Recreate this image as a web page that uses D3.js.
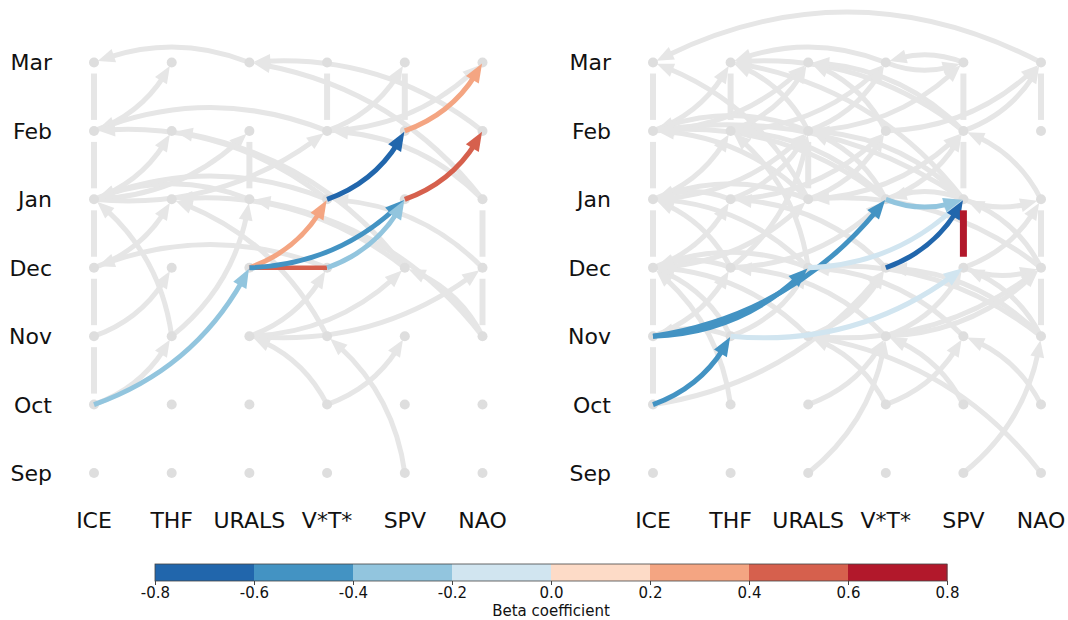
<!DOCTYPE html>
<html>
<head>
<meta charset="utf-8">
<script src="https://cdn.jsdelivr.net/npm/d3@7"></script>
<style>
  body { margin: 0; background: #fff; }
  text { font-family: "DejaVu Sans", sans-serif; fill: #111; }
</style>
</head>
<body>
<svg id="chart" width="1068" height="620"></svg>
<script>
// ---- data ----
const variables = ["ICE", "THF", "URALS", "V*T*", "SPV", "NAO"];
const months = ["Sep", "Oct", "Nov", "Dec", "Jan", "Feb", "Mar"];
const colorTicks = [-0.8, -0.6, -0.4, -0.2, 0.0, 0.2, 0.4, 0.6, 0.8];
const colorRange = ["#2166ac", "#4393c3", "#92c5de", "#d1e5f0", "#fddbc7", "#f4a582", "#d6604d", "#b2182b"];

// auto-dependencies: [variable, month] links month -> next month
const leftAuto = [
  ["ICE", "Oct"], ["ICE", "Nov"], ["ICE", "Dec"], ["ICE", "Jan"], ["ICE", "Feb"],
  ["URALS", "Jan"], ["V*T*", "Feb"], ["SPV", "Feb"], ["NAO", "Nov"], ["NAO", "Dec"]
];
const rightAuto = [
  ["ICE", "Oct"], ["ICE", "Nov"], ["ICE", "Dec"], ["ICE", "Jan"], ["ICE", "Feb"],
  ["THF", "Feb"], ["URALS", "Jan"], ["SPV", "Jan"], ["SPV", "Feb"],
  ["NAO", "Nov"], ["NAO", "Dec"], ["NAO", "Feb"]
];

// background links: [source, source month, target, target month, optional curvature]
const leftLinks = [
  ["URALS", "Mar", "ICE", "Mar"], ["NAO", "Feb", "URALS", "Mar"], ["NAO", "Jan", "URALS", "Mar"],
  ["ICE", "Feb", "THF", "Mar"], ["V*T*", "Feb", "SPV", "Mar"], ["V*T*", "Feb", "NAO", "Mar"],
  ["V*T*", "Feb", "ICE", "Feb"], ["ICE", "Jan", "THF", "Feb"], ["ICE", "Jan", "URALS", "Feb"],
  ["ICE", "Jan", "V*T*", "Feb"], ["V*T*", "Jan", "ICE", "Feb"], ["SPV", "Dec", "THF", "Feb"],
  ["NAO", "Jan", "V*T*", "Feb"], ["URALS", "Jan", "ICE", "Jan"], ["V*T*", "Jan", "ICE", "Jan"],
  ["ICE", "Dec", "THF", "Jan"], ["THF", "Nov", "ICE", "Jan"], ["V*T*", "Nov", "THF", "Jan"],
  ["SPV", "Dec", "THF", "Jan"], ["THF", "Nov", "URALS", "Jan"], ["NAO", "Nov", "URALS", "Jan"],
  ["NAO", "Dec", "V*T*", "Jan"], ["V*T*", "Dec", "ICE", "Dec"], ["ICE", "Nov", "THF", "Dec"],
  ["URALS", "Nov", "V*T*", "Dec"], ["URALS", "Nov", "SPV", "Dec"], ["URALS", "Nov", "NAO", "Dec"],
  ["NAO", "Nov", "SPV", "Dec"], ["ICE", "Oct", "THF", "Nov"], ["V*T*", "Oct", "URALS", "Nov"],
  ["V*T*", "Oct", "SPV", "Nov"], ["SPV", "Sep", "V*T*", "Nov"]
];
const rightLinks = [
  ["NAO", "Mar", "ICE", "Mar", 0.26], ["URALS", "Jan", "ICE", "Mar"], ["ICE", "Feb", "THF", "Mar"],
  ["V*T*", "Mar", "THF", "Mar"], ["SPV", "Feb", "THF", "Mar"], ["SPV", "Jan", "THF", "Mar"],
  ["URALS", "Feb", "THF", "Mar"], ["ICE", "Feb", "URALS", "Mar"],
  ["THF", "Feb", "URALS", "Mar"], ["SPV", "Feb", "URALS", "Mar"], ["V*T*", "Feb", "URALS", "Mar"],
  ["SPV", "Mar", "V*T*", "Mar"], ["V*T*", "Mar", "SPV", "Mar"], ["THF", "Feb", "V*T*", "Mar"],
  ["URALS", "Feb", "V*T*", "Mar"], ["URALS", "Feb", "SPV", "Mar"],
  ["SPV", "Feb", "NAO", "Mar"], ["V*T*", "Feb", "NAO", "Mar"],
  ["URALS", "Feb", "ICE", "Feb"], ["SPV", "Jan", "ICE", "Feb"], ["URALS", "Jan", "ICE", "Feb"],
  ["V*T*", "Jan", "ICE", "Feb"], ["ICE", "Jan", "THF", "Feb"], ["V*T*", "Jan", "THF", "Feb"],
  ["URALS", "Dec", "THF", "Feb"], ["ICE", "Jan", "URALS", "Feb"], ["THF", "Jan", "URALS", "Feb"],
  ["THF", "Dec", "URALS", "Feb"], ["V*T*", "Jan", "URALS", "Feb"], ["SPV", "Jan", "URALS", "Feb"],
  ["URALS", "Jan", "V*T*", "Feb"], ["THF", "Jan", "V*T*", "Feb"], ["V*T*", "Jan", "SPV", "Feb"],
  ["URALS", "Jan", "SPV", "Feb"], ["NAO", "Jan", "SPV", "Feb"],
  ["THF", "Jan", "ICE", "Jan"], ["URALS", "Jan", "ICE", "Jan"], ["THF", "Dec", "ICE", "Jan"],
  ["URALS", "Dec", "ICE", "Jan"], ["ICE", "Dec", "THF", "Jan"], ["ICE", "Dec", "URALS", "Jan"],
  ["V*T*", "Dec", "THF", "Jan"], ["NAO", "Dec", "URALS", "Jan"], ["THF", "Dec", "V*T*", "Jan"],
  ["SPV", "Jan", "V*T*", "Jan"], ["SPV", "Jan", "NAO", "Jan"], ["SPV", "Dec", "NAO", "Jan"],
  ["NAO", "Dec", "SPV", "Jan"],
  ["THF", "Dec", "ICE", "Dec"], ["URALS", "Dec", "ICE", "Dec"], ["ICE", "Nov", "THF", "Dec"],
  ["URALS", "Nov", "ICE", "Dec"], ["THF", "Nov", "ICE", "Dec"], ["THF", "Oct", "ICE", "Dec"],
  ["V*T*", "Nov", "THF", "Dec"], ["ICE", "Oct", "V*T*", "Dec"], ["URALS", "Nov", "V*T*", "Dec"],
  ["THF", "Nov", "URALS", "Dec"], ["SPV", "Nov", "URALS", "Dec"], ["V*T*", "Nov", "SPV", "Dec"],
  ["NAO", "Nov", "SPV", "Dec"], ["SPV", "Dec", "NAO", "Dec"], ["URALS", "Nov", "NAO", "Dec"],
  ["V*T*", "Nov", "NAO", "Dec"], ["NAO", "Nov", "V*T*", "Dec"], ["NAO", "Nov", "URALS", "Dec"],
  ["THF", "Nov", "ICE", "Nov"], ["V*T*", "Oct", "URALS", "Nov"], ["URALS", "Oct", "V*T*", "Nov"],
  ["URALS", "Sep", "V*T*", "Nov"], ["NAO", "Sep", "URALS", "Nov"], ["V*T*", "Oct", "SPV", "Nov"],
  ["SPV", "Oct", "V*T*", "Nov"], ["NAO", "Oct", "SPV", "Nov"], ["SPV", "Sep", "NAO", "Nov"]
];

// significant pathways: [source, source month, target, target month, beta, style]
const leftPaths = [
  ["ICE", "Oct", "URALS", "Dec", -0.3, "arc"],
  ["URALS", "Dec", "V*T*", "Dec", 0.5, "line"],
  ["URALS", "Dec", "V*T*", "Jan", 0.3, "arc"],
  ["URALS", "Dec", "SPV", "Jan", -0.5, "arc"],
  ["V*T*", "Dec", "SPV", "Jan", -0.3, "arc"],
  ["V*T*", "Jan", "SPV", "Feb", -0.7, "arc"],
  ["SPV", "Jan", "NAO", "Feb", 0.5, "arc"],
  ["SPV", "Feb", "NAO", "Mar", 0.3, "arc"]
];
const rightPaths = [
  ["ICE", "Oct", "THF", "Nov", -0.5, "arc"],
  ["ICE", "Nov", "URALS", "Dec", -0.5, "arc"],
  ["ICE", "Nov", "V*T*", "Jan", -0.5, "arc"],
  ["THF", "Nov", "SPV", "Dec", -0.1, "arc"],
  ["URALS", "Dec", "SPV", "Jan", -0.1, "arc"],
  ["V*T*", "Jan", "SPV", "Jan", -0.3, "arc"],
  ["V*T*", "Dec", "SPV", "Jan", -0.7, "arc"],
  ["SPV", "Dec", "SPV", "Jan", 0.7, "auto"]
];

// ---- drawing ----
const svg = d3.select("#chart");
const y = d3.scalePoint().domain(months).range([473, 62.5]);
const color = d3.scaleThreshold().domain(colorTicks.slice(1, -1)).range(colorRange);
const GRAY = "#e6e6e6", NODE = "#dedede";
const GAP = 11;

function bez(p0, c, p1, t) {
  const u = 1 - t;
  return [u * u * p0[0] + 2 * u * t * c[0] + t * t * p1[0],
          u * u * p0[1] + 2 * u * t * c[1] + t * t * p1[1]];
}
// parameter where the curve is at distance d from its end point
function tAtDist(p0, c, p1, d) {
  let lo = 0, hi = 1;
  for (let i = 0; i < 40; i++) {
    const m = (lo + hi) / 2, q = bez(p0, c, p1, m);
    if (Math.hypot(q[0] - p1[0], q[1] - p1[1]) > d) lo = m; else hi = m;
  }
  return lo;
}
// curved link with a filled head whose tip sits `shrink` px before the target node
function arrow(g, p0, p1, rad, col, w, hl, hw, shrink) {
  const c = [(p0[0] + p1[0]) / 2 - rad * (p1[1] - p0[1]),
             (p0[1] + p1[1]) / 2 + rad * (p1[0] - p0[0])];
  const tipT = tAtDist(p0, c, p1, shrink);
  const tip = bez(p0, c, p1, tipT);
  const t = tAtDist(p0, c, p1, shrink + hl * 0.7);
  const c1 = [p0[0] + t * (c[0] - p0[0]), p0[1] + t * (c[1] - p0[1])];
  const e = bez(p0, c, p1, t);
  g.append("path")
    .attr("d", `M${p0[0]},${p0[1]}Q${c1[0]},${c1[1]} ${e[0]},${e[1]}`)
    .attr("fill", "none").attr("stroke", col).attr("stroke-width", w);
  const b = bez(p0, c, p1, tAtDist(p0, c, p1, shrink + hl));
  let dx = tip[0] - b[0], dy = tip[1] - b[1];
  const L = Math.hypot(dx, dy); dx /= L; dy /= L;
  const bx = tip[0] - dx * hl, by = tip[1] - dy * hl;
  g.append("path")
    .attr("d", `M${tip[0]},${tip[1]}L${bx - dy * hw / 2},${by + dx * hw / 2}L${bx + dy * hw / 2},${by - dx * hw / 2}Z`)
    .attr("fill", col);
}

const panels = [
  { range: [94, 482.5], labelX: 52, auto: leftAuto, links: leftLinks, paths: leftPaths },
  { range: [653, 1041], labelX: 611, auto: rightAuto, links: rightLinks, paths: rightPaths }
];

panels.forEach(p => {
  const x = d3.scalePoint().domain(variables).range(p.range);
  const pt = (v, m) => [x(v), y(m)];
  const g = svg.append("g");

  // month labels
  g.selectAll("text.month").data(months).join("text")
    .attr("class", "month")
    .attr("x", p.labelX).attr("y", d => y(d)).attr("dy", "0.36em")
    .attr("text-anchor", "end").attr("font-size", 22).text(d => d);
  // variable labels
  g.selectAll("text.var").data(variables).join("text")
    .attr("class", "var")
    .attr("x", d => x(d)).attr("y", 528)
    .attr("text-anchor", "middle").attr("font-size", 22).text(d => d);

  // auto links
  p.auto.forEach(([v, m]) => {
    const i = months.indexOf(m);
    g.append("line")
      .attr("x1", x(v)).attr("x2", x(v))
      .attr("y1", y(m) - GAP).attr("y2", y(months[i + 1]) + GAP)
      .attr("stroke", GRAY).attr("stroke-width", 6);
  });
  // background links
  p.links.forEach(([a, am, b, bm, rad]) => {
    arrow(g, pt(a, am), pt(b, bm), rad === undefined ? 0.2 : rad, GRAY, 5, 17, 14, 4);
  });
  // nodes
  variables.forEach(v => months.forEach(m => {
    g.append("circle").attr("cx", x(v)).attr("cy", y(m)).attr("r", 5).attr("fill", NODE);
  }));
  // significant pathways
  p.paths.forEach(([a, am, b, bm, beta, kind]) => {
    const col = color(beta), p0 = pt(a, am), p1 = pt(b, bm);
    if (kind === "arc") {
      arrow(g, p0, p1, 0.2, col, 5, 19, 15, 1);
    } else if (kind === "line") {
      g.append("line").attr("x1", p0[0]).attr("y1", p0[1]).attr("x2", p1[0]).attr("y2", p1[1])
        .attr("stroke", col).attr("stroke-width", 4.5);
    } else {
      g.append("line").attr("x1", p0[0]).attr("x2", p0[0])
        .attr("y1", p0[1] - GAP).attr("y2", p1[1] + GAP)
        .attr("stroke", col).attr("stroke-width", 7);
    }
  });
});

// ---- colour bar ----
const cx = d3.scaleLinear().domain([-0.8, 0.8]).range([155, 947]);
const cb = svg.append("g");
cb.selectAll("rect").data(colorRange).join("rect")
  .attr("x", (d, i) => cx(colorTicks[i])).attr("y", 564)
  .attr("width", (d, i) => cx(colorTicks[i + 1]) - cx(colorTicks[i]) + 0.5)
  .attr("height", 17).attr("fill", d => d);
cb.append("rect").attr("x", 155).attr("y", 564).attr("width", 792).attr("height", 17)
  .attr("fill", "none").attr("stroke", "#444").attr("stroke-width", 0.8);
const fmt = d3.formatLocale({ decimal: ".", thousands: ",", grouping: [3], currency: ["", ""], minus: "-" }).format(".1f");
const ax = cb.append("g").attr("transform", "translate(0,581)")
  .call(d3.axisBottom(cx).tickValues(colorTicks).tickFormat(fmt).tickSize(4).tickPadding(2));
ax.select(".domain").remove();
ax.selectAll("line").attr("stroke", "#444");
ax.selectAll("text").attr("font-size", 15).attr("font-family", "DejaVu Sans, sans-serif").attr("fill", "#111");
cb.append("text").attr("x", cx(0)).attr("y", 616).attr("text-anchor", "middle")
  .attr("font-size", 15).text("Beta coefficient");
</script>
</body>
</html>
